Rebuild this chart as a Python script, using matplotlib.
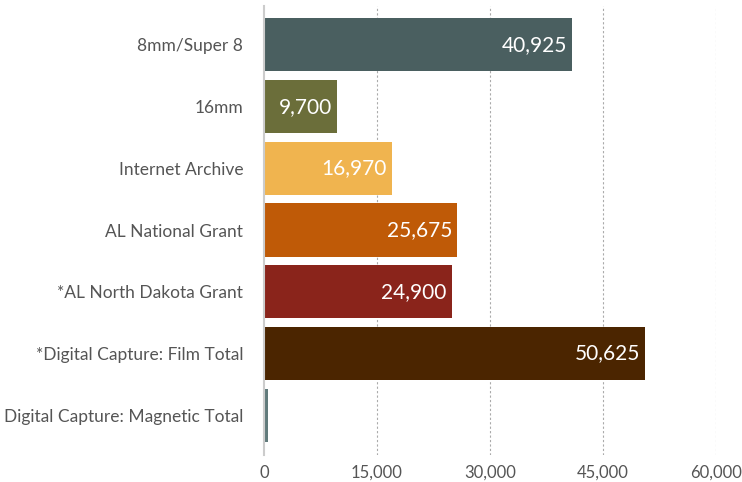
import matplotlib
matplotlib.use("Agg")
import matplotlib.pyplot as plt

categories = ["8mm/Super 8", "16mm", "Internet Archive", "AL National Grant",
              "*AL North Dakota Grant", "*Digital Capture: Film Total",
              "Digital Capture: Magnetic Total"]
values = [40925, 9700, 16970, 25675, 24900, 50625, 550]
colors = ["#4a5f60", "#6b6e3a", "#f0b44f", "#bf5a07", "#8a241b", "#4b2500", "#617a7b"]
show_label = [True, True, True, True, True, True, False]
xticks = [0, 15000, 30000, 45000, 60000]

plt.rcParams['font.family'] = ['Lato', 'DejaVu Sans']

fig = plt.figure(figsize=(7.42, 4.82), dpi=100)
ax = fig.add_axes([264/742, 1-455/482, (716-264)/742, (455-6)/482])

y = list(range(len(categories)))
bars = ax.barh(y, values, height=0.86, color=colors, zorder=3)
for yi, v, s in zip(y, values, show_label):
    if s:
        ax.text(v - 650, yi, f"{v:,}", ha="right", va="center", color="white",
                fontsize=15, zorder=4)

ax.set_xlim(0, 60000)
ax.set_ylim(6.648, -0.632)
ax.set_yticks(y)
ax.set_yticklabels(categories, fontsize=12.5, color="#555555")
ax.set_xticks(xticks)
ax.set_xticklabels([f"{t:,}" for t in xticks], fontsize=12, color="#555555")
ax.tick_params(axis="both", length=0)
ax.tick_params(axis="y", pad=15)
ax.tick_params(axis="x", pad=7)
for s in ["top", "right", "bottom"]:
    ax.spines[s].set_visible(False)
ax.spines["left"].set_color("#cccccc")
ax.spines["left"].set_linewidth(1.5)
ax.spines["left"].set_zorder(5)
ax.grid(axis="x", linestyle=(0, (2, 2)), color="#aaaaaa", linewidth=0.8, zorder=0)
ax.xaxis.get_gridlines()[0].set_visible(False)

fig.savefig("out.png", dpi=100)
